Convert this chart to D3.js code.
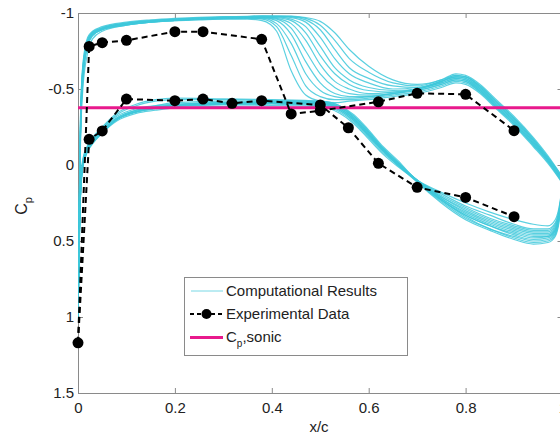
<!DOCTYPE html>
<html>
<head>
<meta charset="utf-8">
<script src="https://cdn.jsdelivr.net/npm/d3@7"></script>
<style>
  html, body { margin: 0; padding: 0; background: #fff; }
  svg { display: block; font-family: "Liberation Sans", Arial, sans-serif; }
</style>
</head>
<body>
<svg id="chart" width="560" height="438"></svg>
<script>
// ---- Data ----
// Chordwise stations shared by every computed run
const cfdUpperX = [0, 0.002, 0.005, 0.01, 0.02, 0.03, 0.05, 0.1, 0.15, 0.2, 0.25, 0.3, 0.35,
  0.38, 0.41, 0.44, 0.47, 0.5, 0.53, 0.56, 0.6, 0.65, 0.7, 0.75, 0.78, 0.8, 0.83, 0.86, 0.9, 0.94, 0.97, 1.0];
const cfdLowerX = [0, 0.002, 0.005, 0.01, 0.02, 0.03, 0.05, 0.08, 0.12, 0.16, 0.2, 0.3, 0.4, 0.5,
  0.54, 0.57, 0.6, 0.63, 0.66, 0.7, 0.75, 0.8, 0.85, 0.9, 0.94, 0.97, 0.985, 0.995, 1.0];

// Upper-surface Cp of each computed run (one row per run)
const cfdUpperCp = [
  [1.0, 0.45, -0.2, -0.6, -0.8, -0.86, -0.895, -0.925, -0.94, -0.95, -0.955, -0.96, -0.96,
   -0.95, -0.88, -0.62, -0.46, -0.42, -0.41, -0.42, -0.43, -0.45, -0.47, -0.51, -0.54, -0.53, -0.47, -0.38, -0.26, -0.12, -0.01, 0.12],
  [1.0, 0.4, -0.25, -0.63, -0.82, -0.87, -0.9, -0.93, -0.945, -0.955, -0.96, -0.965, -0.965,
   -0.96, -0.91, -0.72, -0.52, -0.45, -0.43, -0.43, -0.44, -0.46, -0.48, -0.52, -0.55, -0.54, -0.48, -0.39, -0.27, -0.13, -0.02, 0.12],
  [1.0, 0.5, -0.15, -0.55, -0.78, -0.85, -0.89, -0.92, -0.94, -0.95, -0.958, -0.962, -0.965,
   -0.965, -0.93, -0.8, -0.6, -0.49, -0.45, -0.44, -0.45, -0.47, -0.49, -0.53, -0.56, -0.55, -0.48, -0.39, -0.27, -0.13, -0.02, 0.11],
  [1.0, 0.42, -0.22, -0.62, -0.81, -0.865, -0.9, -0.93, -0.948, -0.958, -0.965, -0.968, -0.97,
   -0.97, -0.95, -0.86, -0.68, -0.54, -0.47, -0.45, -0.45, -0.47, -0.49, -0.53, -0.56, -0.55, -0.49, -0.4, -0.28, -0.14, -0.03, 0.11],
  [1.0, 0.48, -0.18, -0.58, -0.79, -0.855, -0.89, -0.922, -0.94, -0.952, -0.96, -0.966, -0.97,
   -0.97, -0.96, -0.9, -0.75, -0.6, -0.51, -0.47, -0.46, -0.47, -0.5, -0.54, -0.57, -0.56, -0.49, -0.4, -0.28, -0.14, -0.03, 0.1],
  [1.0, 0.38, -0.28, -0.65, -0.83, -0.875, -0.905, -0.935, -0.95, -0.96, -0.966, -0.97, -0.972,
   -0.975, -0.965, -0.93, -0.82, -0.66, -0.55, -0.5, -0.47, -0.48, -0.5, -0.54, -0.57, -0.56, -0.5, -0.41, -0.29, -0.15, -0.03, 0.1],
  [1.0, 0.45, -0.2, -0.6, -0.8, -0.86, -0.895, -0.928, -0.945, -0.956, -0.963, -0.968, -0.972,
   -0.975, -0.97, -0.95, -0.87, -0.72, -0.6, -0.53, -0.49, -0.48, -0.5, -0.55, -0.58, -0.57, -0.5, -0.41, -0.29, -0.15, -0.04, 0.1],
  [1.0, 0.5, -0.12, -0.5, -0.74, -0.83, -0.88, -0.92, -0.94, -0.952, -0.96, -0.967, -0.972,
   -0.975, -0.975, -0.96, -0.91, -0.78, -0.64, -0.56, -0.51, -0.49, -0.5, -0.55, -0.58, -0.57, -0.51, -0.42, -0.3, -0.16, -0.04, 0.09],
  [1.0, 0.4, -0.25, -0.63, -0.82, -0.87, -0.9, -0.932, -0.948, -0.958, -0.966, -0.972, -0.975,
   -0.978, -0.976, -0.97, -0.94, -0.84, -0.7, -0.6, -0.54, -0.5, -0.51, -0.55, -0.58, -0.58, -0.51, -0.42, -0.3, -0.16, -0.04, 0.09],
  [1.0, 0.44, -0.2, -0.6, -0.8, -0.86, -0.895, -0.93, -0.947, -0.958, -0.966, -0.972, -0.976,
   -0.98, -0.978, -0.975, -0.955, -0.89, -0.76, -0.64, -0.57, -0.52, -0.51, -0.55, -0.59, -0.58, -0.52, -0.43, -0.31, -0.17, -0.05, 0.08],
  [1.0, 0.46, -0.18, -0.58, -0.79, -0.855, -0.892, -0.928, -0.946, -0.958, -0.967, -0.973, -0.977,
   -0.98, -0.98, -0.978, -0.965, -0.92, -0.82, -0.7, -0.61, -0.54, -0.52, -0.56, -0.59, -0.58, -0.52, -0.43, -0.31, -0.17, -0.05, 0.08],
  [1.0, 0.36, -0.3, -0.66, -0.84, -0.88, -0.91, -0.94, -0.955, -0.965, -0.972, -0.976, -0.978,
   -0.98, -0.98, -0.98, -0.97, -0.945, -0.87, -0.76, -0.65, -0.56, -0.53, -0.56, -0.6, -0.59, -0.53, -0.44, -0.32, -0.18, -0.06, 0.08]
];

// Lower-surface Cp of each computed run (same order as above)
const cfdLowerCp = [
  [1.0, 0.62, 0.22, 0.02, -0.09, -0.14, -0.21, -0.29, -0.34, -0.36, -0.375, -0.385, -0.39, -0.385,
   -0.34, -0.27, -0.17, -0.07, 0.01, 0.1, 0.18, 0.25, 0.31, 0.36, 0.39, 0.4, 0.36, 0.24, 0.12],
  [1.0, 0.6, 0.2, 0.0, -0.1, -0.15, -0.22, -0.3, -0.35, -0.37, -0.385, -0.395, -0.4, -0.39,
   -0.35, -0.28, -0.18, -0.08, 0.0, 0.1, 0.19, 0.27, 0.33, 0.39, 0.42, 0.42, 0.38, 0.25, 0.12],
  [1.0, 0.58, 0.18, -0.02, -0.11, -0.16, -0.23, -0.31, -0.36, -0.38, -0.39, -0.4, -0.405, -0.4,
   -0.36, -0.29, -0.19, -0.09, 0.0, 0.11, 0.21, 0.29, 0.36, 0.41, 0.44, 0.44, 0.4, 0.27, 0.12],
  [1.0, 0.6, 0.2, 0.0, -0.1, -0.15, -0.22, -0.3, -0.35, -0.375, -0.39, -0.405, -0.41, -0.405,
   -0.37, -0.3, -0.2, -0.1, -0.01, 0.1, 0.22, 0.31, 0.38, 0.43, 0.46, 0.46, 0.42, 0.28, 0.12],
  [1.0, 0.56, 0.16, -0.03, -0.12, -0.17, -0.24, -0.32, -0.37, -0.39, -0.4, -0.41, -0.415, -0.41,
   -0.38, -0.31, -0.21, -0.1, -0.01, 0.11, 0.23, 0.33, 0.4, 0.45, 0.48, 0.47, 0.43, 0.29, 0.12],
  [1.0, 0.6, 0.2, 0.0, -0.1, -0.15, -0.22, -0.3, -0.35, -0.375, -0.39, -0.405, -0.41, -0.41,
   -0.38, -0.32, -0.22, -0.11, -0.02, 0.1, 0.23, 0.34, 0.42, 0.47, 0.5, 0.49, 0.45, 0.3, 0.12],
  [1.0, 0.62, 0.22, 0.01, -0.09, -0.14, -0.21, -0.3, -0.35, -0.37, -0.385, -0.4, -0.405, -0.4,
   -0.36, -0.29, -0.19, -0.09, 0.0, 0.1, 0.2, 0.28, 0.35, 0.4, 0.43, 0.43, 0.39, 0.26, 0.12],
  [1.0, 0.58, 0.18, -0.01, -0.11, -0.16, -0.23, -0.31, -0.36, -0.38, -0.395, -0.41, -0.415, -0.41,
   -0.37, -0.3, -0.2, -0.1, -0.01, 0.1, 0.21, 0.3, 0.37, 0.42, 0.45, 0.45, 0.41, 0.27, 0.12],
  [1.0, 0.6, 0.2, 0.0, -0.1, -0.15, -0.22, -0.3, -0.36, -0.39, -0.41, -0.42, -0.42, -0.415,
   -0.38, -0.31, -0.21, -0.1, -0.01, 0.11, 0.23, 0.33, 0.4, 0.46, 0.49, 0.48, 0.44, 0.29, 0.12],
  [1.0, 0.57, 0.17, -0.02, -0.12, -0.17, -0.24, -0.33, -0.39, -0.42, -0.43, -0.43, -0.425, -0.42,
   -0.39, -0.32, -0.22, -0.11, -0.02, 0.11, 0.24, 0.35, 0.42, 0.48, 0.51, 0.5, 0.46, 0.31, 0.12],
  [1.0, 0.6, 0.2, 0.0, -0.1, -0.15, -0.22, -0.3, -0.35, -0.38, -0.395, -0.41, -0.41, -0.405,
   -0.37, -0.3, -0.2, -0.1, -0.01, 0.1, 0.22, 0.32, 0.39, 0.44, 0.47, 0.47, 0.43, 0.28, 0.12],
  [1.0, 0.55, 0.15, -0.04, -0.13, -0.18, -0.25, -0.34, -0.4, -0.43, -0.44, -0.435, -0.43, -0.42,
   -0.39, -0.33, -0.23, -0.12, -0.03, 0.11, 0.25, 0.36, 0.43, 0.49, 0.52, 0.51, 0.47, 0.32, 0.12]
];

// Wind-tunnel pressure taps
const expUpperX  = [0, 0.023, 0.05, 0.1, 0.2, 0.258, 0.379, 0.44, 0.5, 0.62, 0.7, 0.8, 0.9];
const expUpperCp = [1.17, -0.78, -0.805, -0.82, -0.877, -0.877, -0.827, -0.336, -0.357, -0.416, -0.472, -0.465, -0.226];
const expLowerX  = [0, 0.023, 0.05, 0.1, 0.2, 0.258, 0.318, 0.379, 0.5, 0.558, 0.62, 0.7, 0.8, 0.9];
const expLowerCp = [1.17, -0.169, -0.224, -0.434, -0.423, -0.434, -0.406, -0.423, -0.395, -0.245, -0.011, 0.147, 0.213, 0.34];

// Critical pressure coefficient
const cpSonic = -0.377;

// Axis ticks
const xTicks = [0, 0.2, 0.4, 0.6, 0.8, 1];
const yTicks = [-1, -0.5, 0, 0.5, 1, 1.5];

(function draw() {
  const svg = d3.select("#chart");
  const plotLeft = 78, plotRight = 562.5, plotTop = 13, plotBottom = 393;
  const frameColor = "#8a8a8a";
  const textColor = "#222";
  const cfdColor = "#3ec8da";
  const sonicColor = "#e8198c";

  const x = d3.scaleLinear().domain([0, 1]).range([plotLeft, plotRight]);
  const y = d3.scaleLinear().domain([-1, 1.5]).range([plotTop, plotBottom]);

  svg.append("defs").append("clipPath").attr("id", "plotArea")
    .append("rect").attr("x", plotLeft).attr("y", plotTop)
    .attr("width", plotRight - plotLeft).attr("height", plotBottom - plotTop);

  // Axes: ticks point inward on all four sides
  function styleAxis(g) {
    g.selectAll("path.domain").attr("stroke", frameColor).attr("stroke-width", 1);
    g.selectAll(".tick line").attr("stroke", frameColor);
    g.selectAll(".tick text").attr("fill", textColor).attr("font-size", 15)
      .attr("font-family", "Liberation Sans, Arial, sans-serif");
  }
  const fmt = d => String(d);

  svg.append("g").attr("transform", `translate(0,${plotBottom})`)
    .call(d3.axisBottom(x).tickValues(xTicks).tickFormat(fmt).tickSizeInner(-5).tickSizeOuter(0).tickPadding(9))
    .call(styleAxis);
  svg.append("g").attr("transform", `translate(0,${plotTop})`)
    .call(d3.axisTop(x).tickValues(xTicks).tickFormat("").tickSizeInner(-5).tickSizeOuter(0))
    .call(styleAxis);
  svg.append("g").attr("transform", `translate(${plotLeft},0)`)
    .call(d3.axisLeft(y).tickValues(yTicks).tickFormat(fmt).tickSizeInner(-5).tickSizeOuter(0).tickPadding(4))
    .call(styleAxis);
  svg.append("g").attr("transform", `translate(${plotRight},0)`)
    .call(d3.axisRight(y).tickValues(yTicks).tickFormat("").tickSizeInner(-5).tickSizeOuter(0))
    .call(styleAxis);

  // Computed Cp distributions
  const smooth = d3.line().x(d => x(d[0])).y(d => y(d[1])).curve(d3.curveMonotoneX);
  const plot = svg.append("g").attr("clip-path", "url(#plotArea)");

  cfdUpperCp.forEach(run => {
    plot.append("path").attr("d", smooth(cfdUpperX.map((xv, i) => [xv, run[i]])))
      .attr("fill", "none").attr("stroke", cfdColor).attr("stroke-width", 1.2).attr("stroke-opacity", 0.85);
  });
  cfdLowerCp.forEach(run => {
    plot.append("path").attr("d", smooth(cfdLowerX.map((xv, i) => [xv, run[i]])))
      .attr("fill", "none").attr("stroke", cfdColor).attr("stroke-width", 1.2).attr("stroke-opacity", 0.85);
  });

  // Sonic line
  plot.append("line").attr("x1", x(0)).attr("x2", x(1)).attr("y1", y(cpSonic)).attr("y2", y(cpSonic))
    .attr("stroke", sonicColor).attr("stroke-width", 3);

  // Experimental data
  const straight = d3.line().x(d => x(d[0])).y(d => y(d[1]));
  const expUpper = expUpperX.map((xv, i) => [xv, expUpperCp[i]]);
  const expLower = expLowerX.map((xv, i) => [xv, expLowerCp[i]]);
  [expUpper, expLower].forEach(pts => {
    svg.append("path").attr("d", straight(pts)).attr("fill", "none")
      .attr("stroke", "#000").attr("stroke-width", 2).attr("stroke-dasharray", "6,4");
  });
  const markers = expUpper.concat(expLower.slice(1));
  svg.append("g").selectAll("circle").data(markers).join("circle")
    .attr("cx", d => x(d[0])).attr("cy", d => y(d[1])).attr("r", 5.5).attr("fill", "#000");

  // Axis titles
  svg.append("text").attr("x", 319).attr("y", 432).attr("text-anchor", "middle")
    .attr("font-size", 15).attr("fill", textColor).text("x/c");
  const yTitle = svg.append("text").attr("transform", "translate(27,206) rotate(-90)")
    .attr("text-anchor", "middle").attr("font-size", 16).attr("fill", textColor);
  yTitle.append("tspan").text("C");
  yTitle.append("tspan").attr("font-size", 11).attr("dy", 5).text("p");

  // Legend
  const lg = svg.append("g");
  lg.append("rect").attr("x", 184.5).attr("y", 277.5).attr("width", 223).attr("height", 78)
    .attr("fill", "#fff").attr("stroke", frameColor).attr("stroke-width", 1);
  const rows = [291, 314, 337.5];
  lg.append("line").attr("x1", 191).attr("x2", 223).attr("y1", rows[0]).attr("y2", rows[0])
    .attr("stroke", cfdColor).attr("stroke-width", 1).attr("stroke-opacity", 0.7);
  lg.append("line").attr("x1", 190).attr("x2", 223).attr("y1", rows[1]).attr("y2", rows[1])
    .attr("stroke", "#000").attr("stroke-width", 2).attr("stroke-dasharray", "4,3");
  lg.append("circle").attr("cx", 206.5).attr("cy", rows[1]).attr("r", 5).attr("fill", "#000");
  lg.append("line").attr("x1", 190).attr("x2", 223).attr("y1", rows[2]).attr("y2", rows[2])
    .attr("stroke", sonicColor).attr("stroke-width", 3);

  lg.append("text").attr("x", 226).attr("y", rows[0] + 5).attr("font-size", 15).attr("fill", textColor)
    .text("Computational Results");
  lg.append("text").attr("x", 226).attr("y", rows[1] + 5).attr("font-size", 15).attr("fill", textColor)
    .text("Experimental Data");
  const sonicLabel = lg.append("text").attr("x", 226).attr("y", rows[2] + 4.5).attr("font-size", 15).attr("fill", textColor);
  sonicLabel.append("tspan").text("C");
  sonicLabel.append("tspan").attr("font-size", 10).attr("dy", 5).text("p");
  sonicLabel.append("tspan").attr("dy", -5).text(",sonic");
})();
</script>
</body>
</html>
